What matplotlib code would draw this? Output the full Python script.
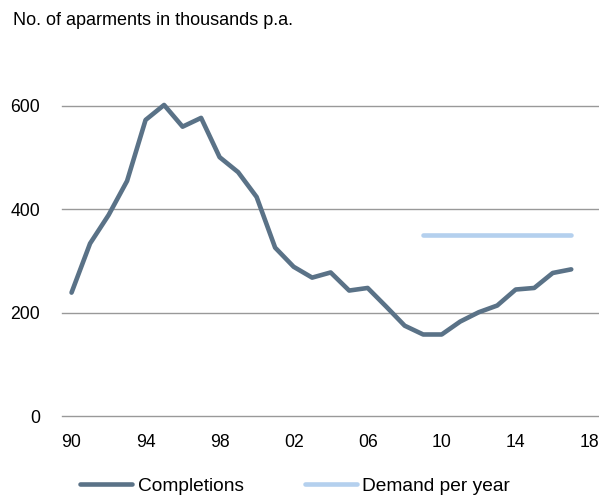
import numpy as np
import matplotlib.pyplot as plt

plt.rcParams['font.family'] = ['Liberation Sans', 'DejaVu Sans']

# data
years = list(range(1990, 2018))
completions = [239, 334, 389, 455, 573, 602, 560, 577, 501, 472, 424, 326,
               289, 268, 278, 243, 248, 212, 175, 158, 158, 183, 201, 214,
               245, 248, 277, 284]
demand_years = [2009, 2017]
demand = [350, 350]
xticks = [1990, 1994, 1998, 2002, 2006, 2010, 2014, 2018]
xlabels = ['90', '94', '98', '02', '06', '10', '14', '18']
yticks = [0, 200, 400, 600]

fig = plt.figure(figsize=(5.99, 4.99), dpi=100)
ax = fig.add_axes([0.104, 0.166, 0.896, 0.72])

ax.plot(years, completions, color='#5a7287', lw=3.3, solid_capstyle='round',
        label='Completions', zorder=3)
ax.plot(demand_years, demand, color='#b4d0ee', lw=3.3, solid_capstyle='round',
        label='Demand per year', zorder=3)

ax.set_xlim(1989.5, 2018.5)
ax.set_ylim(0, 695)
ax.set_yticks(yticks)
ax.set_xticks(xticks)
ax.set_xticklabels(xlabels)
ax.grid(axis='y', color='#999999', lw=1)
for gl in ax.get_ygridlines():
    gl.set_clip_on(False)
ax.tick_params(length=0, labelsize=12.7, pad=13)
ax.tick_params(axis='y', pad=16)
for s in ax.spines.values():
    s.set_visible(False)

fig.text(0.022, 0.958, 'No. of aparments in thousands p.a.', fontsize=13,
         va='center')

fig.legend(loc='lower left', bbox_to_anchor=(0.105, -0.026), ncol=2, frameon=False,
           fontsize=13.8, handlelength=2.7, handletextpad=0.3, columnspacing=3.2)

fig.savefig('out.png', dpi=100)
